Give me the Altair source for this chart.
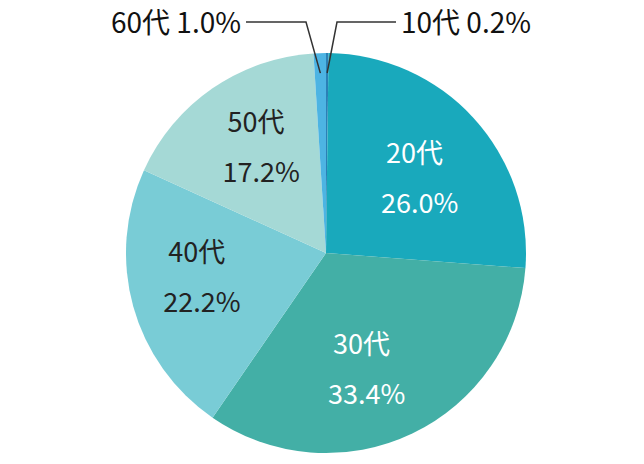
import math
import altair as alt
import pandas as pd

categories = ["10代", "20代", "30代", "40代", "50代", "60代"]
values = [0.2, 26.0, 33.4, 22.2, 17.2, 1.0]
colors = ["#2b80b6", "#19a9bc", "#43afa6", "#79ccd6", "#a5d9d6", "#4db4e3"]
text_colors = ["#222222", "#ffffff", "#ffffff", "#222222", "#222222", "#222222"]
outside = ["10代", "60代"]

FONT = "Noto Sans CJK JP"
R = 200
FS_IN = 27
FS_OUT = 28

df = pd.DataFrame({
    "cat": categories,
    "value": values,
    "order": list(range(len(categories))),
    "pct": [f"{v:.1f}%" for v in values],
    "tcolor": text_colors,
})
df["name_in"] = [c if c not in outside else "" for c in categories]
df["pct_in"] = [p if c not in outside else "" for c, p in zip(categories, df["pct"])]

# leader lines for the thin slices (computed from the data values)
total = sum(values)
cum = 0.0
line_rows = []
label_rows = []
line_y = R + 31
label_y = R + 28
for c, v in zip(categories, values):
    mid = (cum + v / 2) / total * 2 * math.pi
    cum += v
    if c not in outside:
        continue
    side = 1 if c == "10代" else -1
    knee = 11 if side == 1 else -20
    end = 70 if side == 1 else -80
    px, py = 180 * math.sin(mid), 180 * math.cos(mid)
    pts = [(px, py), (knee, line_y), (end, line_y)]
    for i, (x, y) in enumerate(pts):
        line_rows.append({"cat": c, "i": i, "x": x, "y": y})
    label_rows.append({
        "cat": c,
        "label": f"{c} {v:.1f}%",
        "x": end + 5 * side,
        "y": label_y,
        "align": "left" if side == 1 else "right",
    })
lines_df = pd.DataFrame(line_rows)
labels_df = pd.DataFrame(label_rows)

theta = alt.Theta("value:Q", stack=True)
order = alt.Order("order:Q")

pie = alt.Chart(df).mark_arc(outerRadius=R, strokeWidth=0).encode(
    theta=theta,
    order=order,
    color=alt.Color("cat:N", scale=alt.Scale(domain=categories, range=colors), legend=None),
)

text_kw = dict(radius=123, thetaOffset=0.08, fontSize=FS_IN, font=FONT, baseline="middle", align="left")
name_txt = alt.Chart(df).mark_text(dx=-37, dy=-22, **text_kw).encode(
    theta=theta, order=order, text="name_in:N", color=alt.Color("tcolor:N", scale=None)
)
pct_txt = alt.Chart(df).mark_text(dx=-42, dy=28, **text_kw).encode(
    theta=theta, order=order, text="pct_in:N", color=alt.Color("tcolor:N", scale=None)
)

xs = alt.Scale(domain=[-R, R])
ys = alt.Scale(domain=[-R, R])

leaders = alt.Chart(lines_df).mark_line(color="#333333", strokeWidth=1.5).encode(
    x=alt.X("x:Q", scale=xs, axis=None),
    y=alt.Y("y:Q", scale=ys, axis=None),
    detail="cat:N",
    order="i:Q",
)

out_left = alt.Chart(labels_df[labels_df["align"] == "left"]).mark_text(
    align="left", baseline="middle", fontSize=FS_OUT, font=FONT, color="#111111"
).encode(x=alt.X("x:Q", scale=xs, axis=None), y=alt.Y("y:Q", scale=ys, axis=None), text="label:N")
out_right = alt.Chart(labels_df[labels_df["align"] == "right"]).mark_text(
    align="right", baseline="middle", fontSize=FS_OUT, font=FONT, color="#111111"
).encode(x=alt.X("x:Q", scale=xs, axis=None), y=alt.Y("y:Q", scale=ys, axis=None), text="label:N")

chart = alt.layer(pie, name_txt, pct_txt, leaders, out_left, out_right).properties(
    width=2 * R,
    height=2 * R,
    background="white",
    autosize=alt.AutoSizeParams(type="none"),
    padding={"left": 118, "top": 45, "right": 108, "bottom": 2},
).configure_view(strokeWidth=0)

chart.save("out.html", embed_options={"renderer": "svg", "actions": False})
